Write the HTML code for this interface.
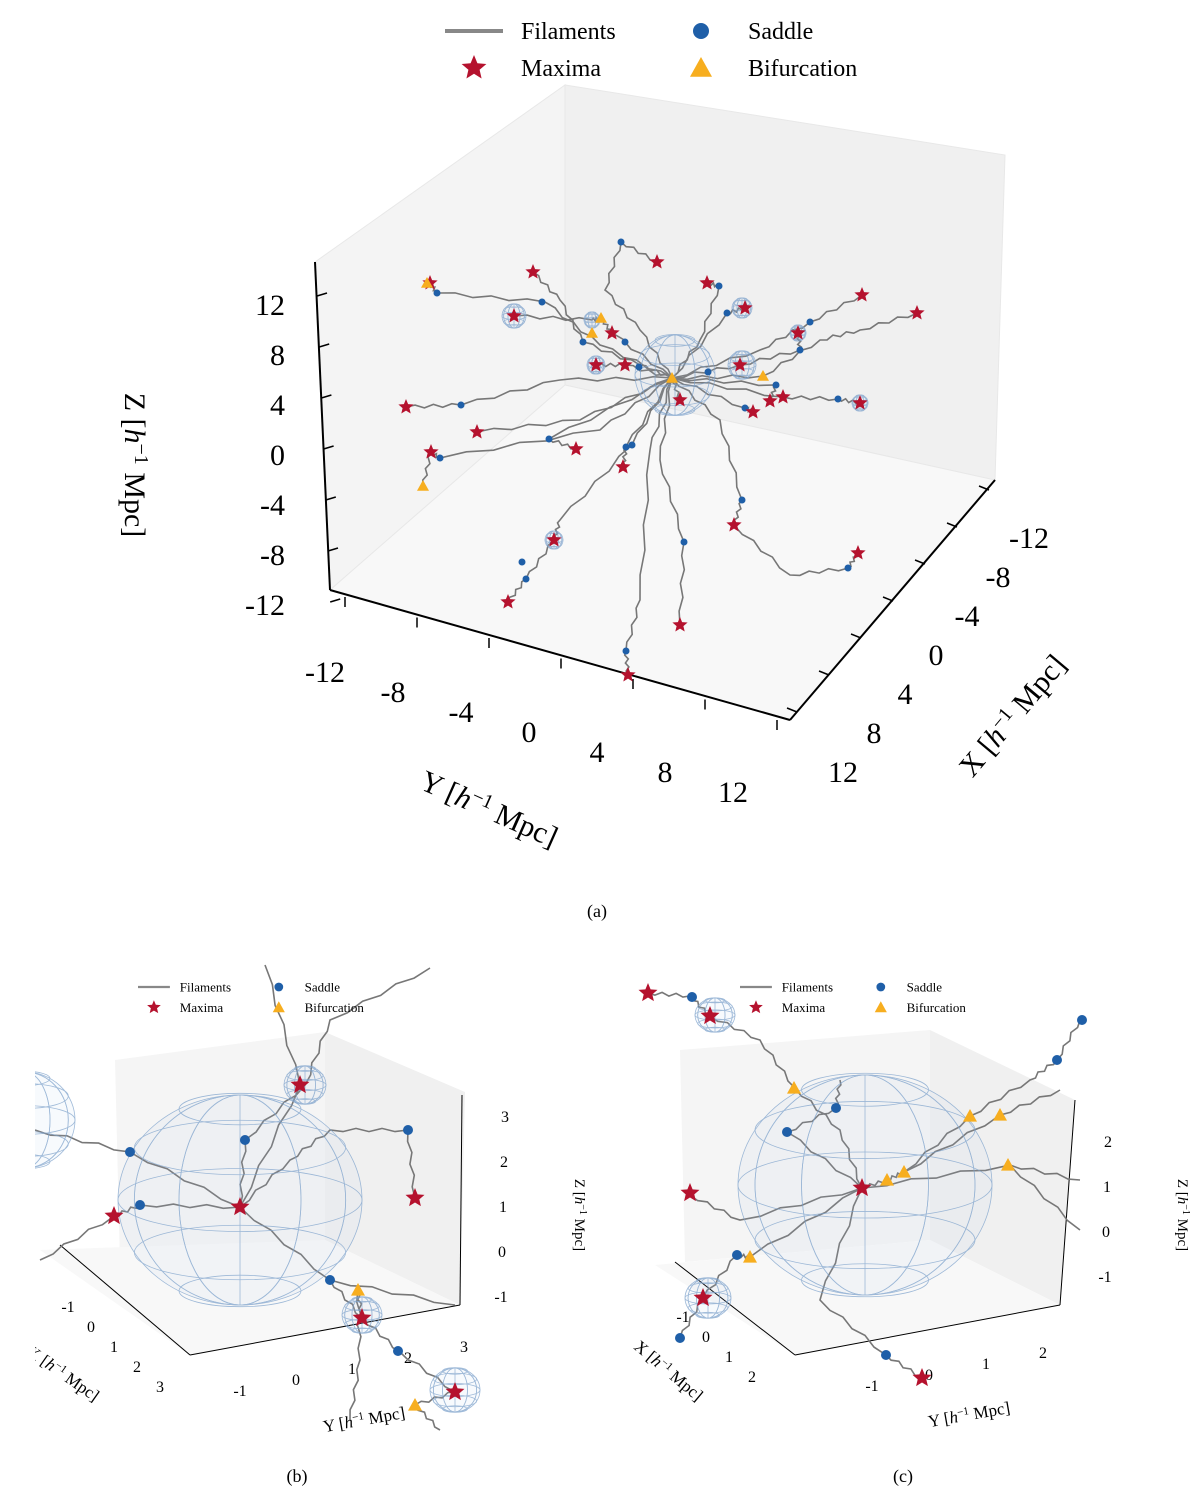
<!DOCTYPE html>
<html><head><meta charset="utf-8"><style>
body{margin:0;background:#fff;}
svg{display:block;font-family:"Liberation Serif",serif;}
</style></head><body>
<svg id="fig" width="1200" height="1494" viewBox="0 0 1200 1494">
<defs><clipPath id="clipB"><rect x="35" y="940" width="560" height="520"/></clipPath></defs>
<g id="panelA">
 <polygon points="315,262 565,85 565,385 330,590" fill="#f4f4f4" stroke="#e8e8e8"/>
 <polygon points="565,85 1005,155 995,480 565,385" fill="#f0f0f0" stroke="#e8e8e8"/>
 <polygon points="330,590 565,385 995,480 790,720" fill="#f8f8f8" stroke="#e8e8e8"/>
 <line x1="315" y1="262" x2="330" y2="590" stroke="#000" stroke-width="2"/>
 <line x1="330" y1="590" x2="790" y2="720" stroke="#000" stroke-width="2"/>
 <line x1="790" y1="720" x2="995" y2="480" stroke="#000" stroke-width="2"/>
 <text x="125" y="465" font-size="30" text-anchor="middle" transform="rotate(90 125 465)">Z [<tspan font-style="italic">h</tspan><tspan font-size="20" dy="-10">−1</tspan><tspan dy="10"> Mpc]</tspan></text>
 <text x="485" y="818" font-size="30" text-anchor="middle" transform="rotate(24 485 818)">Y [<tspan font-style="italic">h</tspan><tspan font-size="20" dy="-10">−1</tspan><tspan dy="10"> Mpc]</tspan></text>
 <text x="1020" y="722" font-size="30" text-anchor="middle" transform="rotate(-50 1020 722)">X [<tspan font-style="italic">h</tspan><tspan font-size="20" dy="-10">−1</tspan><tspan dy="10"> Mpc]</tspan></text>
</g>
<g id="panelB" clip-path="url(#clipB)">
 <polygon points="115,1060 325,1032 325,1240 120,1265" fill="#f5f5f5"/>
 <polygon points="325,1032 465,1092 460,1305 325,1240" fill="#f0f0f0"/>
 <polygon points="40,1250 325,1240 460,1305 190,1355" fill="#f8f8f8"/>
 <line x1="190" y1="1355" x2="460" y2="1305" stroke="#000"/>
 <line x1="60" y1="1245" x2="190" y2="1355" stroke="#000"/>
 <line x1="462" y1="1095" x2="460" y2="1305" stroke="#000"/>
 <text x="575" y="1215" font-size="15" text-anchor="middle" transform="rotate(90 575 1215)">Z [<tspan font-style="italic">h</tspan><tspan font-size="10" dy="-5">−1</tspan><tspan dy="5"> Mpc]</tspan></text>
 <text x="365" y="1425" font-size="17" text-anchor="middle" transform="rotate(-10 365 1425)">Y [<tspan font-style="italic">h</tspan><tspan font-size="11" dy="-6">−1</tspan><tspan dy="6"> Mpc]</tspan></text>
 <text x="60" y="1378" font-size="17" text-anchor="middle" transform="rotate(35 60 1378)">X [<tspan font-style="italic">h</tspan><tspan font-size="11" dy="-6">−1</tspan><tspan dy="6"> Mpc]</tspan></text>
</g>
<g id="panelC">
 <polygon points="680,1050 930,1030 930,1240 685,1262" fill="#f5f5f5"/>
 <polygon points="930,1030 1075,1100 1060,1305 930,1240" fill="#f0f0f0"/>
 <polygon points="655,1265 930,1240 1060,1305 795,1355" fill="#f8f8f8"/>
 <line x1="795" y1="1355" x2="1060" y2="1305" stroke="#000"/>
 <line x1="675" y1="1262" x2="795" y2="1355" stroke="#000"/>
 <line x1="1075" y1="1100" x2="1060" y2="1305" stroke="#000"/>
 <text x="1178" y="1215" font-size="15" text-anchor="middle" transform="rotate(90 1178 1215)">Z [<tspan font-style="italic">h</tspan><tspan font-size="10" dy="-5">−1</tspan><tspan dy="5"> Mpc]</tspan></text>
 <text x="970" y="1420" font-size="17" text-anchor="middle" transform="rotate(-10 970 1420)">Y [<tspan font-style="italic">h</tspan><tspan font-size="11" dy="-6">−1</tspan><tspan dy="6"> Mpc]</tspan></text>
 <text x="665" y="1375" font-size="17" text-anchor="middle" transform="rotate(40 665 1375)">X [<tspan font-style="italic">h</tspan><tspan font-size="11" dy="-6">−1</tspan><tspan dy="6"> Mpc]</tspan></text>
</g>
<text x="597" y="917" font-size="18" text-anchor="middle">(a)</text>
<text x="297" y="1482" font-size="18" text-anchor="middle">(b)</text>
<text x="903" y="1482" font-size="18" text-anchor="middle">(c)</text>
</svg>
<script>
const aZTicks=["12","8","4","0","-4","-8","-12"];
const aYTicks=["-12","-8","-4","0","4","8","12"];
const aXTicks=["12","8","4","0","-4","-8","-12"];
const aSpheres=[[675,375,40],[514,316,12],[742,308,10],[596,365,9],[742,365,14],[798,333,8],[860,403,8],[554,540,9],[592,320,8]];
const aFilaments=[
 [[672,378],[600,345],[545,302],[437,293],[430,283]],
 [[672,378],[640,365],[583,342],[560,300],[533,272]],
 [[672,378],[640,330],[605,290],[621,242],[657,262]],
 [[672,378],[700,340],[719,286],[707,283]],
 [[672,378],[727,313],[745,308]],
 [[672,378],[760,350],[810,322],[862,295]],
 [[672,378],[763,376],[820,340],[860,330],[917,313]],
 [[672,378],[612,333],[601,318],[592,320],[514,316]],
 [[672,378],[625,365],[596,365]],
 [[672,378],[740,365],[800,350],[798,333]],
 [[672,378],[776,385],[770,401]],
 [[672,378],[745,408],[753,412]],
 [[672,378],[680,400]],
 [[672,378],[783,397],[838,399],[860,403]],
 [[672,378],[560,380],[461,405],[406,407]],
 [[672,378],[580,420],[477,432]],
 [[672,378],[600,430],[440,458],[431,452],[423,486]],
 [[672,378],[549,439],[576,449]],
 [[672,378],[626,447],[623,467]],
 [[672,378],[720,420],[742,500],[734,525],[790,575],[848,568],[858,553]],
 [[672,378],[660,460],[684,542],[680,625]],
 [[672,378],[632,445],[560,520],[554,540],[526,579],[508,602]],
 [[672,378],[650,450],[640,600],[626,651],[628,675]]
];
const aMaxima=[[430,283],[533,272],[657,262],[707,283],[745,308],[862,295],[917,313],[514,316],[612,333],[596,365],[625,365],[740,365],[798,333],[770,401],[783,397],[753,412],[680,400],[860,403],[406,407],[477,432],[431,452],[576,449],[623,467],[734,525],[858,553],[554,540],[508,602],[680,625],[628,675]];
const aSaddles=[[621,242],[437,293],[542,302],[583,342],[625,342],[719,286],[727,313],[810,322],[800,350],[461,405],[549,439],[626,447],[632,445],[742,500],[684,542],[526,579],[522,562],[626,651],[848,568],[838,399],[776,385],[745,408],[639,367],[708,372],[440,458]];
const aBif=[[427,283],[601,318],[592,333],[672,378],[763,376],[423,486]];
const bZTicks=["3","2","1","0","-1"], bYTicks=["-1","0","1","2","3"], bXTicks=["-1","0","1","2","3"];
const bSpheres=[[240,1200,122,105],[305,1085,21,19],[362,1315,20,18],[455,1390,25,22],[25,1120,50,48]];
const bFilaments=[[[35,1130],[130,1152],[240,1207],[330,1280],[362,1318],[400,1352],[455,1392]],[[40,1260],[114,1216],[140,1205],[240,1207],[300,1085],[265,965]],[[240,1207],[245,1140],[305,1085],[330,1020],[430,968]],[[240,1207],[290,1160],[330,1130],[408,1130],[415,1198]],[[362,1318],[358,1290],[360,1360],[350,1420]],[[330,1280],[455,1305]],[[455,1392],[415,1405],[440,1430]]];
const bMaxima=[[114,1216],[240,1207],[300,1085],[415,1198],[362,1318],[455,1392]];
const bSaddles=[[130,1152],[140,1205],[245,1140],[408,1130],[330,1280],[398,1351]];
const bBif=[[358,1290],[415,1405]];
const cZTicks=["2","1","0","-1"], cYTicks=["-1","0","1","2"], cXTicks=["-1","0","1","2"];
const cSpheres=[[865,1185,127,110],[715,1015,20,17],[708,1298,23,20]];
const cFilaments=[[[648,993],[690,996],[710,1016],[760,1040],[795,1088],[840,1130],[862,1188]],[[862,1188],[887,1180],[904,1172],[970,1116],[1030,1080],[1057,1060],[1080,1020]],[[862,1188],[787,1132],[836,1108],[840,1080]],[[862,1188],[750,1257],[737,1255],[703,1298],[680,1338]],[[862,1188],[1010,1165],[1080,1180]],[[904,1172],[1000,1115],[1060,1090]],[[862,1188],[820,1300],[886,1355],[922,1378]],[[690,1195],[740,1220],[862,1188]],[[1010,1165],[1080,1230]]];
const cMaxima=[[648,993],[710,1016],[690,1193],[862,1188],[703,1298],[922,1378]];
const cSaddles=[[692,997],[836,1108],[787,1132],[737,1255],[680,1338],[886,1355],[1057,1060],[1082,1020]];
const cBif=[[794,1088],[970,1116],[1000,1115],[1008,1165],[887,1180],[904,1172],[750,1257]];

const NS="http://www.w3.org/2000/svg";
function mk(parent,tag,attrs,name){const e=document.createElementNS(NS,tag);for(const k in attrs)e.setAttribute(k,attrs[k]);
 
 
 parent.appendChild(e);return e;}
function sphere(g,cx,cy,rx,ry,name){
 const s=mk(g,'g',{stroke:'#7fa3cc','stroke-width':0.8,fill:'none',opacity:0.75},name);
 mk(s,'ellipse',{cx:cx,cy:cy,rx:rx,ry:ry,fill:'rgba(170,200,230,0.12)'},'sphere-outline');
 for(let i=1;i<6;i++){const t=-Math.PI/2+i*Math.PI/6;mk(s,'ellipse',{cx:cx,cy:cy+ry*Math.sin(t),rx:rx*Math.cos(t),ry:ry*0.3*Math.cos(t)},'sphere-latitude');}
 for(let i=1;i<6;i++){mk(s,'ellipse',{cx:cx,cy:cy,rx:rx*Math.abs(Math.cos(i*Math.PI/6)),ry:ry},'sphere-meridian');}
}
function star(g,x,y,r,name){let p=[];for(let i=0;i<10;i++){const a=-Math.PI/2+i*Math.PI/5,rr=i%2?r*0.45:r;p.push((x+rr*Math.cos(a)).toFixed(1)+','+(y+rr*Math.sin(a)).toFixed(1));}
 mk(g,'polygon',{points:p.join(' '),fill:'#b5122e'},name);}
function tri(g,x,y,r,name){mk(g,'polygon',{points:`${x},${y-r} ${x+r},${y+r*0.8} ${x-r},${y+r*0.8}`,fill:'#f7ae1f'},name);}
function dot(g,x,y,r,name){mk(g,'circle',{cx:x,cy:y,r:r,fill:'#1f5fa8'},name);}
function wiggle(pts){let d='M'+pts[0][0]+','+pts[0][1];for(let i=1;i<pts.length;i++){const [x0,y0]=pts[i-1],[x1,y1]=pts[i];const n=6;for(let k=1;k<=n;k++){const t=k/n;const off=(k<n)?((k%2?1:-1)*1.6):0;const dx=x1-x0,dy=y1-y0,L=Math.hypot(dx,dy)||1;d+=' L'+(x0+dx*t-dy/L*off).toFixed(1)+','+(y0+dy*t+dx/L*off).toFixed(1);}}return d;}
function drawPanel(g,spheres,fils,maxima,saddles,bif,sr,dr,tr){
 fils.forEach(f=>mk(g,'path',{d:wiggle(f),stroke:'#777',fill:'none','stroke-width':1.6},'filament'));
 spheres.forEach(s=>sphere(g,s[0],s[1],s[2],s[3]||s[2],'halo-sphere'));
 saddles.forEach(p=>dot(g,p[0],p[1],dr,'saddle-point'));
 maxima.forEach(p=>star(g,p[0],p[1],sr,'maximum-point'));
 bif.forEach(p=>tri(g,p[0],p[1],tr,'bifurcation-point'));
}
function labels(g,arr,x0,y0,dx,dy,fs,anchor,name){arr.forEach((t,i)=>{const e=mk(g,'text',{x:x0+i*dx,y:y0+i*dy,'font-size':fs,'text-anchor':anchor},name);e.textContent=t;});}
function ticks(g,x0,y0,dx,dy,n,tx,ty,name){for(let i=0;i<n;i++)mk(g,'line',{x1:x0+i*dx,y1:y0+i*dy,x2:x0+i*dx+tx,y2:y0+i*dy+ty,stroke:'#000','stroke-width':1.5},name);}
const A=document.getElementById('panelA'),B=document.getElementById('panelB'),C=document.getElementById('panelC');
ticks(A,317,296,2.2,51,7,10,-3,'z-tick');
labels(A,aZTicks,285,315,0,50,30,'end','z-tick-label');
ticks(A,345,597,72,20.5,7,0,10,'y-tick');
labels(A,aYTicks,325,682,68,20,30,'middle','y-tick-label');
ticks(A,797,712,32,-37,7,-10,-4,'x-tick');
labels(A,aXTicks,843,782,31,-39,30,'middle','x-tick-label');
drawPanel(A,aSpheres,aFilaments,aMaxima,aSaddles,aBif,8,3.5,6);
labels(B,bZTicks,505,1122,-1,45,16,'middle','b-z-tick-label');
labels(B,bYTicks,240,1396,56,-11,16,'middle','b-y-tick-label');
labels(B,bXTicks,68,1312,23,20,16,'middle','b-x-tick-label');
drawPanel(B,bSpheres,bFilaments,bMaxima,bSaddles,bBif,10,5,7);
labels(C,cZTicks,1108,1147,-1,45,16,'middle','c-z-tick-label');
labels(C,cYTicks,872,1391,57,-11,16,'middle','c-y-tick-label');
labels(C,cXTicks,683,1322,23,20,16,'middle','c-x-tick-label');
drawPanel(C,cSpheres,cFilaments,cMaxima,cSaddles,cBif,10,5,7);
function legend(g,x,y,fs,s,name){const L=mk(g,'g',{},name);
 mk(L,'line',{x1:x,y1:y,x2:x+58*s,y2:y,stroke:'#888','stroke-width':4*s},'legend-filament-line');
 let t=mk(L,'text',{x:x+76*s,y:y+8*s,'font-size':fs},'legend-filaments');t.textContent='Filaments';
 star(L,x+29*s,y+37*s,13*s,'legend-maxima-marker');
 t=mk(L,'text',{x:x+76*s,y:y+45*s,'font-size':fs},'legend-maxima');t.textContent='Maxima';
 dot(L,x+256*s,y,8*s,'legend-saddle-marker');
 t=mk(L,'text',{x:x+303*s,y:y+8*s,'font-size':fs},'legend-saddle');t.textContent='Saddle';
 tri(L,x+256*s,y+37*s,11*s,'legend-bifurcation-marker');
 t=mk(L,'text',{x:x+303*s,y:y+45*s,'font-size':fs},'legend-bifurcation');t.textContent='Bifurcation';}
const F=document.getElementById('fig');
legend(F,445,31,24,1,'legend-a');
legend(F,138,987,13,0.55,'legend-b');
legend(F,740,987,13,0.55,'legend-c');
</script>
</body></html>
